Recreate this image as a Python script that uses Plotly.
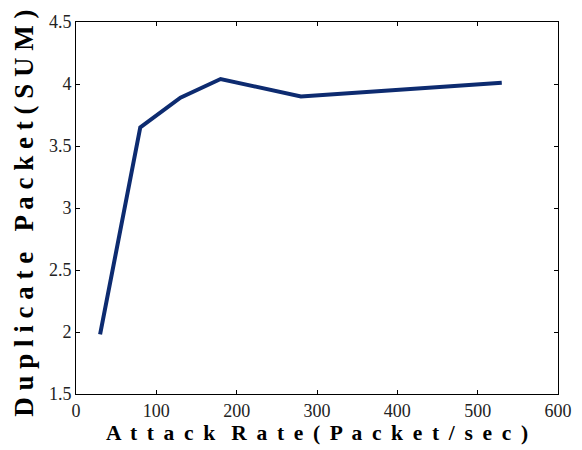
import plotly.graph_objects as go

attack_rate = [30, 80, 130, 180, 280, 530]
duplicate_packet = [1.98, 3.65, 3.89, 4.04, 3.90, 4.01]

x_ticks = [0, 100, 200, 300, 400, 500, 600]
y_ticks = [1.5, 2, 2.5, 3, 3.5, 4, 4.5]

def spaced(s, inner=" ", word="   "):
    return word.join(inner.join(w) for w in s.split(" "))

x_title = spaced("Attack Rate(Packet/sec)", inner=" \u2009", word="   ")
y_title = spaced("Duplicate Packet(SUM)", inner=" ", word="   ")

serif = "Liberation Serif, Times New Roman, serif"

fig = go.Figure()
fig.add_trace(go.Scatter(x=attack_rate, y=duplicate_packet, mode="lines",
                         line=dict(color="#0d2b70", width=4), showlegend=False))

axis_common = dict(showline=True, linecolor="black", linewidth=1, mirror="ticks",
                   ticks="inside", ticklen=4, tickcolor="black", tickwidth=1,
                   showgrid=False, zeroline=False, automargin=False,
                   tickfont=dict(family=serif, size=18, color="#222222"))

fig.update_xaxes(range=[0, 600], tickvals=x_ticks, ticktext=[str(v) for v in x_ticks],
                 title=dict(text=x_title, font=dict(family=serif, size=21.5,
                            color="black", weight="bold"), standoff=3),
                 **axis_common)
fig.update_yaxes(range=[1.5, 4.5], tickvals=y_ticks, ticktext=[f"{v:g}" for v in y_ticks],
                 **axis_common)

fig.add_annotation(text=y_title, textangle=-90, xref="paper", yref="paper",
                   x=-0.108, y=0.487, xanchor="center", yanchor="middle",
                   showarrow=False,
                   font=dict(family=serif, size=27, color="black", weight="bold"))

# page body has an 8px margin; figure sized so the plot area lands where the reference has it
fig.update_layout(width=574, height=442, margin=dict(l=68, r=24, t=14, b=56),
                  plot_bgcolor="white", paper_bgcolor="white")

fig.write_html("out.html")
